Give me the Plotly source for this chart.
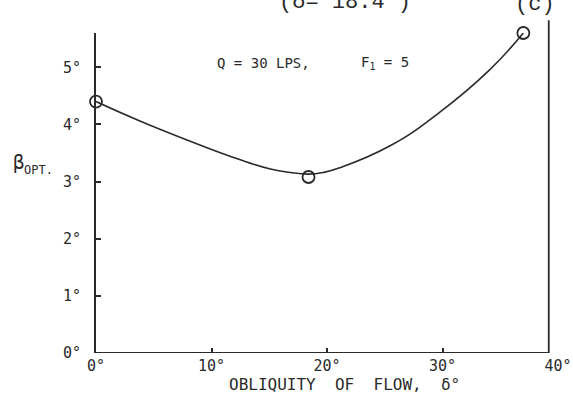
import plotly.graph_objects as go

# measured points (obliquity delta in deg, optimum beta in deg)
delta_pts = [0, 18.4, 37.0]
beta_pts = [4.4, 3.08, 5.6]

# points
delta_curve = [0, 3.8, 8.1, 12.5, 15.1, 16.8, 18.4, 19.7, 21.1, 25.5, 29.8, 34.1, 37.0]
beta_curve = [4.4, 4.06, 3.71, 3.38, 3.22, 3.16, 3.13, 3.16, 3.24, 3.63, 4.22, 4.96, 5.6]

x_ticks = [0, 10, 20, 30, 40]
y_ticks = [0, 1, 2, 3, 4, 5]
frame_x = 39.2  # right frame line

ink = '#2a2a2a'
mono = 'DejaVu Sans Mono'

fig = go.Figure()

fig.add_trace(go.Scatter(
    x=delta_curve, y=beta_curve, mode='lines',
    line=dict(color=ink, width=1.6, shape='spline', smoothing=1.3),
    cliponaxis=False, hoverinfo='skip', showlegend=False
))
fig.add_trace(go.Scatter(
    x=delta_pts, y=beta_pts, mode='markers',
    marker=dict(symbol='circle-open', size=12, color=ink, line=dict(width=1.8, color=ink)),
    cliponaxis=False, showlegend=False
))

fig.update_layout(
    width=573, height=401, autosize=False,
    margin=dict(l=96, r=15, t=33, b=48, autoexpand=False),
    paper_bgcolor='white', plot_bgcolor='white',
    showlegend=False,
    font=dict(family=mono, color=ink, size=14),
)

fig.update_xaxes(
    range=[0, 40], showgrid=False, zeroline=False, showline=False,
    ticks='inside', ticklen=5, tickwidth=1.5, tickcolor=ink,
    tickvals=x_ticks, ticktext=[f'{v}°' for v in x_ticks],
    tickfont=dict(family=mono, size=15, color=ink),
    ticklabelstandoff=2, automargin=False,
)
fig.update_yaxes(
    range=[0, 5.6], showgrid=False, zeroline=False,
    showline=True, linecolor=ink, linewidth=1.8,
    ticks='inside', ticklen=5, tickwidth=1.5, tickcolor=ink,
    tickvals=y_ticks, ticktext=[f'{v}°' for v in y_ticks],
    tickfont=dict(family=mono, size=15, color=ink),
    ticklabelstandoff=10, automargin=False,
)

# frame: bottom axis line stops at the right frame line
fig.add_shape(type='line', xref='x', yref='y', x0=0, x1=frame_x, y0=0, y1=0,
              line=dict(color=ink, width=1.8))
fig.add_shape(type='line', xref='x', yref='paper', x0=frame_x, x1=frame_x, y0=0, y1=1.04,
              line=dict(color=ink, width=1.8))

def px(xp):
    return (xp - 96) / 462

def py(yp):
    return (353 - yp) / 320

fig.add_annotation(text='OBLIQUITY  OF  FLOW,  δ°', xref='paper', yref='paper',
                   x=px(344), y=py(384), xanchor='center', yanchor='middle', showarrow=False,
                   font=dict(family=mono, size=16, color=ink))
fig.add_annotation(text='Q = 30 LPS,', xref='paper', yref='paper',
                   x=px(263), y=py(63), xanchor='center', yanchor='middle', showarrow=False,
                   font=dict(family=mono, size=14, color=ink))
fig.add_annotation(text='F<sub>1</sub> = 5', xref='paper', yref='paper',
                   x=px(385), y=py(63), xanchor='center', yanchor='middle', showarrow=False,
                   font=dict(family=mono, size=14, color=ink))
fig.add_annotation(text='β', xref='paper', yref='paper', xanchor='left', yanchor='middle',
                   x=px(11), y=py(162), showarrow=False,
                   font=dict(family=mono, size=19, color=ink))
fig.add_annotation(text='OPT.', xref='paper', yref='paper', xanchor='left', yanchor='middle',
                   x=px(22), y=py(170), showarrow=False,
                   font=dict(family=mono, size=12, color=ink))

# typewritten caption lines, partly cut off at the top of the page
fig.add_annotation(text='(δ= 18.4°)', xref='paper', yref='paper', xanchor='center', yanchor='bottom',
                   x=px(345), y=py(17), showarrow=False,
                   font=dict(family='Liberation Mono', size=22, color=ink))
fig.add_annotation(text='(c)', xref='paper', yref='paper', xanchor='center', yanchor='bottom',
                   x=px(535), y=py(19), showarrow=False,
                   font=dict(family='Liberation Mono', size=22, color=ink))

# page body has a default margin; remove it so the figure sits at the window corner
fig.write_html('out.html', config={'displayModeBar': False},
               post_script="document.body.style.margin='0';")
